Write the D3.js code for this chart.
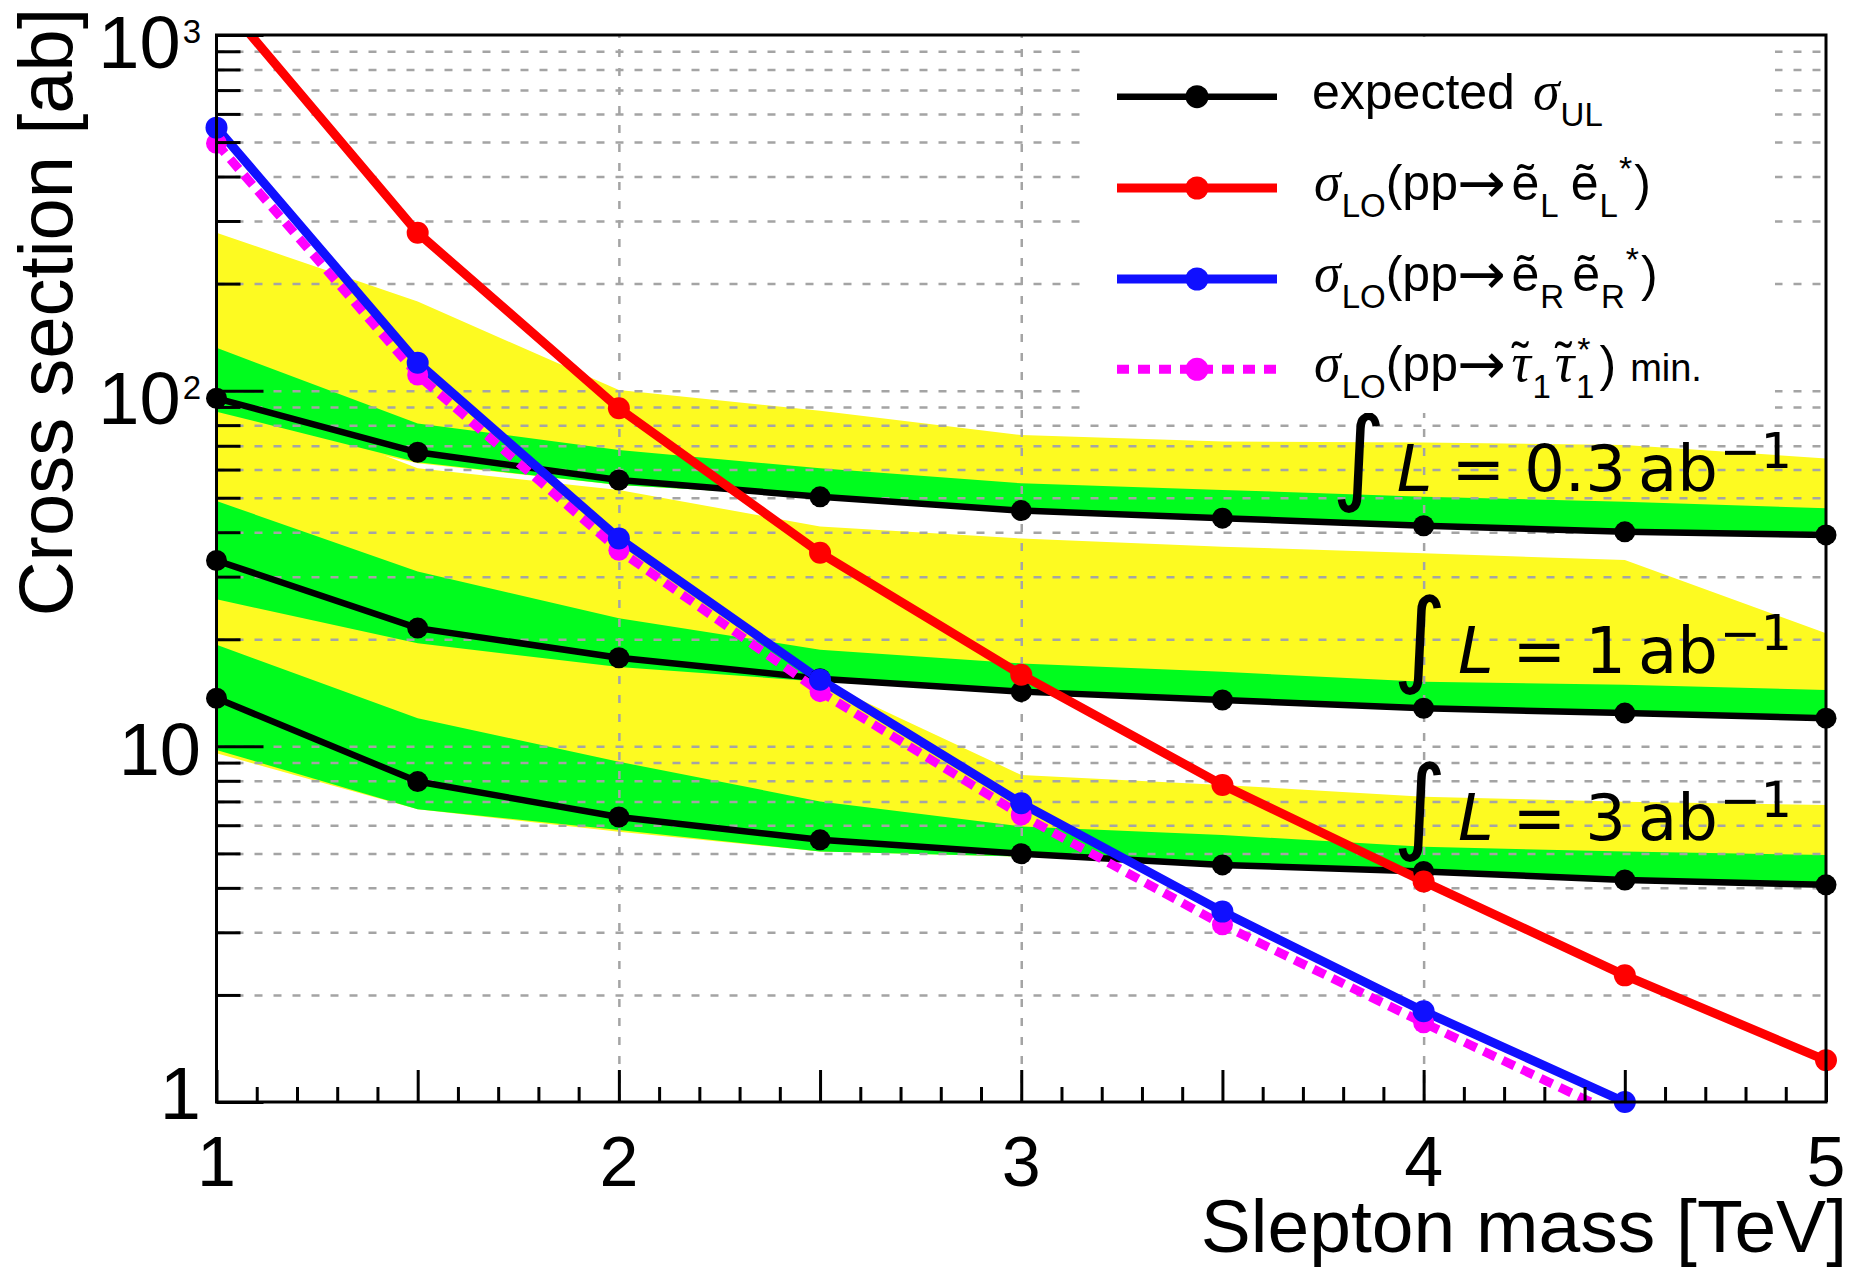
<!DOCTYPE html>
<html><head><meta charset="utf-8">
<script src="https://cdn.jsdelivr.net/npm/d3@7"></script>
<style>
html,body{margin:0;padding:0;background:#fff;}
svg{display:block;}
</style></head>
<body>
<svg id="chart" width="1854" height="1270"></svg>
<script>
// ---------------- data ----------------
const massTeV = [1, 1.5, 2, 2.5, 3, 3.5, 4, 4.5, 5];
const lumiLabels = ["0.3", "1", "3"];

// expected upper limits [ab], L = 0.3 ab^-1
const exp03_med = [95.2, 67.1, 56.1, 50.3, 46.0, 43.8, 41.7, 40.1, 39.3];
const exp03_p1  = [132, 80.9, 68.1, 60.5, 54.9, 52.6, 50.3, 48.7, 46.7];
const exp03_m1  = [87.3, 62.9, 54.3, 50.3, 46.0, 43.8, 41.7, 40.1, 39.3];
const exp03_p2  = [278, 178, 100.4, 87.8, 75.0, 72.0, 71.5, 70.4, 64.5];
const exp03_m2  = [84, 62.5, 54.3, 50.3, 46.0, 43.8, 41.7, 40.1, 39.3];
// L = 1 ab^-1
const exp1_med = [33.3, 21.5, 17.75, 15.5, 14.25, 13.5, 12.8, 12.4, 12.0];
const exp1_p1  = [48.96, 31.0, 22.9, 18.7, 17.1, 16.2, 15.2, 14.9, 14.4];
const exp1_m1  = [25.9, 19.5, 16.7, 15.2, 14.25, 13.5, 12.8, 12.4, 12.0];
const exp1_p2  = [100, 60.5, 52.6, 41.5, 38.4, 36.4, 34.9, 33.4, 20.8];
const exp1_m2  = [25.9, 19.5, 16.7, 15.2, 14.25, 13.5, 12.8, 12.4, 12.0];
// L = 3 ab^-1
const exp3_med = [13.65, 7.96, 6.33, 5.46, 4.99, 4.64, 4.45, 4.21, 4.08];
const exp3_p1  = [19.3, 12.0, 9.05, 7.0, 5.95, 5.63, 5.22, 5.06, 4.95];
const exp3_m1  = [9.77, 6.65, 5.82, 5.06, 4.9, 4.64, 4.45, 4.21, 4.08];
const exp3_p2  = [27, 20, 17, 15.3, 8.31, 7.79, 7.22, 6.99, 6.84];
const exp3_m2  = [9.56, 6.65, 5.75, 5.06, 4.9, 4.64, 4.45, 4.21, 4.08];

// LO cross sections [ab]
const sigmaEL  = [1300, 278, 89.2, 35.0, 15.9, 7.79, 4.17, 2.27, 1.31];
const sigmaER  = [549, 119.8, 38.4, 15.4, 6.92, 3.43, 1.80, 1.0];
const sigmaTau = [496, 110.7, 35.6, 14.25, 6.41, 3.15, 1.67, 0.9];

const xTickLabels = ["1", "2", "3", "4", "5"];
const yMajorValues = [1, 10, 100, 1000];
const yTickMantissa = ["1", "10", "10", "10"];
const yTickExponent = ["", "", "2", "3"];

// ---------------- setup ----------------
const svg = d3.select("#chart");
const x = d3.scaleLinear().domain([1, 5]).range([216.5, 1826]);
const y = d3.scaleLog().domain([1, 1000]).range([1102, 35]);
const X0 = x.range()[0], X1 = x.range()[1], Y0 = y.range()[0], Y1 = y.range()[1];

const YELLOW = "#fdfa21", GREEN = "#00fc1e";
const RED = "#ff0000", BLUE = "#1010ff", MAGENTA = "#ff00ff";
const SANS = "Liberation Sans, Arial, Helvetica, sans-serif";
const SERIF = "Liberation Serif, Times New Roman, serif";
const MATH = "DejaVu Sans, sans-serif";

svg.append("rect").attr("width", 1854).attr("height", 1270).attr("fill", "#fff");
svg.append("defs").append("clipPath").attr("id", "clip")
  .append("rect").attr("x", X0).attr("y", Y1).attr("width", X1 - X0).attr("height", Y0 - Y1);

const plot = svg.append("g").attr("clip-path", "url(#clip)");

const groups = [
  {med: exp03_med, p1: exp03_p1, m1: exp03_m1, p2: exp03_p2, m2: exp03_m2},
  {med: exp1_med, p1: exp1_p1, m1: exp1_m1, p2: exp1_p2, m2: exp1_m2},
  {med: exp3_med, p1: exp3_p1, m1: exp3_m1, p2: exp3_p2, m2: exp3_m2}
];

const bandArea = (hi, lo) => d3.area()
  .x((d, i) => x(massTeV[i]))
  .y0((d, i) => y(lo[i]))
  .y1((d, i) => y(hi[i]))(massTeV);

groups.forEach(g => plot.append("path").attr("d", bandArea(g.p2, g.m2)).attr("fill", YELLOW));
groups.forEach(g => plot.append("path").attr("d", bandArea(g.p1, g.m1)).attr("fill", GREEN));

// grid (through d3 axes)
const gridY = [];
for (let dec = 1; dec <= 100; dec *= 10) for (let k = 1; k <= 9; k++) if (!(dec === 1 && k === 1)) gridY.push(dec * k);
const gy = plot.append("g").attr("transform", `translate(${X0},0)`)
  .call(d3.axisLeft(y).tickValues(gridY).tickSize(-(X1 - X0)).tickFormat(""));
gy.select(".domain").remove();
gy.selectAll("line").attr("stroke", "#a4a4a4").attr("stroke-width", 2.5).attr("stroke-dasharray", "8,11");
const gx = plot.append("g").attr("transform", `translate(0,${Y0})`)
  .call(d3.axisBottom(x).tickValues([2, 3, 4]).tickSize(-(Y0 - Y1)).tickFormat(""));
gx.select(".domain").remove();
gx.selectAll("line").attr("stroke", "#a4a4a4").attr("stroke-width", 2.5).attr("stroke-dasharray", "8,11");

// series
const lineGen = arr => d3.line().x((d, i) => x(massTeV[i])).y((d, i) => y(arr[i]))(arr);
const markers = svg.append("g");
function drawSeries(arr, color, width, dash, r) {
  plot.append("path").attr("d", lineGen(arr)).attr("fill", "none")
    .attr("stroke", color).attr("stroke-width", width)
    .attr("stroke-dasharray", dash || null).attr("stroke-linejoin", "round");
  markers.append("g").selectAll("circle")
    .data(arr.map((v, i) => ({m: massTeV[i], v})).filter(d => d.v >= 1 && d.v <= 1000))
    .join("circle").attr("cx", d => x(d.m)).attr("cy", d => y(d.v)).attr("r", r).attr("fill", color);
}
groups.forEach(g => drawSeries(g.med, "#000", 6.5, null, 10.5));
drawSeries(sigmaTau, MAGENTA, 9, "13,8", 10.5);
drawSeries(sigmaER, BLUE, 9, null, 11);
drawSeries(sigmaEL, RED, 9, null, 11);

// rich text helper
function rich(parent, xp, yp, parts, anchor) {
  const t = parent.append("text").attr("x", xp).attr("y", yp).attr("text-anchor", anchor || "start");
  let cur = 0;
  parts.forEach(p => {
    const sh = p.shift || 0;
    const ts = t.append("tspan").text(p.t)
      .attr("font-family", p.family || SANS)
      .attr("font-size", p.size)
      .attr("font-style", p.style || "normal")
      .attr("dy", sh - cur);
    if (p.dx) ts.attr("dx", p.dx);
    cur = sh;
  });
  return t;
}

// luminosity labels
const lumiBaselines = [491, 673, 840];
lumiLabels.forEach((lab, i) => {
  rich(svg, 1792, lumiBaselines[i], [
    {t: "\u222B", size: 104, family: MATH},
    {t: "L", size: 64, family: MATH, style: "italic", dx: 11},
    {t: "=", size: 64, family: MATH, dx: 19},
    {t: lab, size: 64, family: MATH, dx: 19},
    {t: "ab", size: 64, family: MATH, dx: 12},
    {t: "\u22121", size: 49, family: MATH, shift: -23, dx: 2}
  ], "end").attr("fill", "#000");
});

// legend
const leg = svg.append("g");
leg.append("rect").attr("x", 1080).attr("y", 37).attr("width", 695).attr("height", 376).attr("fill", "#fff");
const rows = [96.7, 188, 279, 369.3];
const legendItems = [
  {color: "#000", width: 6.5, dash: null},
  {color: RED, width: 9, dash: null},
  {color: BLUE, width: 9, dash: null},
  {color: MAGENTA, width: 9, dash: "12,9"}
];
legendItems.forEach((it, i) => {
  leg.append("line").attr("x1", 1117).attr("x2", 1277).attr("y1", rows[i]).attr("y2", rows[i])
    .attr("stroke", it.color).attr("stroke-width", it.width).attr("stroke-dasharray", it.dash);
  leg.append("circle").attr("cx", 1197).attr("cy", rows[i]).attr("r", 11.5).attr("fill", it.color);
});
const sig = {t: "\u03C3", size: 54, family: SERIF, style: "italic"};
const sub = (s, dx) => ({t: s, size: 33, shift: 17, dx: dx === undefined ? 1 : dx});
const arrow = {t: "\u2192", size: 58, family: MATH, shift: 3, dx: -1};
const afterArrow = (o) => Object.assign({shift: 0}, o);
rich(leg, 1312, rows[0] + 12, [{t: "expected", size: 50}, Object.assign({}, sig, {dx: 18}), sub("UL")]);
rich(leg, 1314, rows[1] + 12, [sig, sub("LO"), {t: "(pp", size: 50}, arrow,
  afterArrow({t: "e\u0303", size: 50, dx: 6}), sub("L"), {t: "e\u0303", size: 50, dx: 12}, sub("L"),
  {t: "*", size: 34, shift: -20, dx: 1}, {t: ")", size: 50, dx: 2}]);
rich(leg, 1314, rows[2] + 12, [sig, sub("LO"), {t: "(pp", size: 50}, arrow,
  afterArrow({t: "e\u0303", size: 50, dx: 6}), sub("R"), {t: "e\u0303", size: 50, dx: 8}, sub("R"),
  {t: "*", size: 34, shift: -20, dx: 1}, {t: ")", size: 50, dx: 2}]);
const tau = (dx) => [
  {t: "\u03C4", size: 54, family: SERIF, style: "italic", dx: dx},
  {t: "\u02DC", size: 50, family: SANS, dx: -19, shift: -4},
  sub("1", 4)
];
rich(leg, 1314, rows[3] + 12, [sig, sub("LO"), {t: "(pp", size: 50}, arrow]
  .concat(tau(6)).concat(tau(4))
  .concat([{t: "*", size: 34, shift: -20, dx: -17}, {t: ")", size: 50, dx: 9}, {t: "min.", size: 38, dx: 14}]));

// axes
const axes = svg.append("g");
function styleAxis(g) {
  g.select(".domain").remove();
  g.selectAll("line").attr("stroke", "#000").attr("stroke-width", 3);
}
const yMinor = gridY.filter(v => !yMajorValues.includes(v));
axes.append("g").attr("transform", `translate(${X0},0)`)
  .call(d3.axisLeft(y).tickValues(yMajorValues).tickSizeInner(-47).tickSizeOuter(0).tickFormat("")).call(styleAxis);
axes.append("g").attr("transform", `translate(${X0},0)`)
  .call(d3.axisLeft(y).tickValues(yMinor).tickSizeInner(-24).tickSizeOuter(0).tickFormat("")).call(styleAxis);
const xHalf = d3.range(1, 5.001, 0.5);
const xTenth = d3.range(10, 51, 1).map(v => v / 10).filter(v => Math.abs(v * 2 - Math.round(v * 2)) > 1e-6);
axes.append("g").attr("transform", `translate(0,${Y0})`)
  .call(d3.axisBottom(x).tickValues(xHalf).tickSizeInner(-32).tickSizeOuter(0).tickFormat("")).call(styleAxis);
axes.append("g").attr("transform", `translate(0,${Y0})`)
  .call(d3.axisBottom(x).tickValues(xTenth).tickSizeInner(-15).tickSizeOuter(0).tickFormat("")).call(styleAxis);

axes.append("rect").attr("x", X0).attr("y", Y1).attr("width", X1 - X0).attr("height", Y0 - Y1)
  .attr("fill", "none").attr("stroke", "#000").attr("stroke-width", 3);

// tick labels
xTickLabels.forEach(l => {
  axes.append("text").attr("x", x(+l)).attr("y", 1186).attr("text-anchor", "middle")
    .attr("font-family", SANS).attr("font-size", 70).text(l);
});
yMajorValues.forEach((v, i) => {
  const off = v === 1 ? 17 : (yTickExponent[i] ? 33 : 29);
  const parts = [{t: yTickMantissa[i], size: 74}];
  if (yTickExponent[i]) parts.push({t: yTickExponent[i], size: 33, shift: -25, dx: 2});
  rich(axes, 201, y(v) + off, parts, "end");
});

// axis titles
axes.append("text").attr("x", 1847).attr("y", 1252).attr("text-anchor", "end")
  .attr("font-family", SANS).attr("font-size", 75).text("Slepton mass [TeV]");
axes.append("text").attr("transform", "translate(72,8) rotate(-90)").attr("text-anchor", "end")
  .attr("font-family", SANS).attr("font-size", 76).text("Cross section [ab]");
</script>
</body></html>
